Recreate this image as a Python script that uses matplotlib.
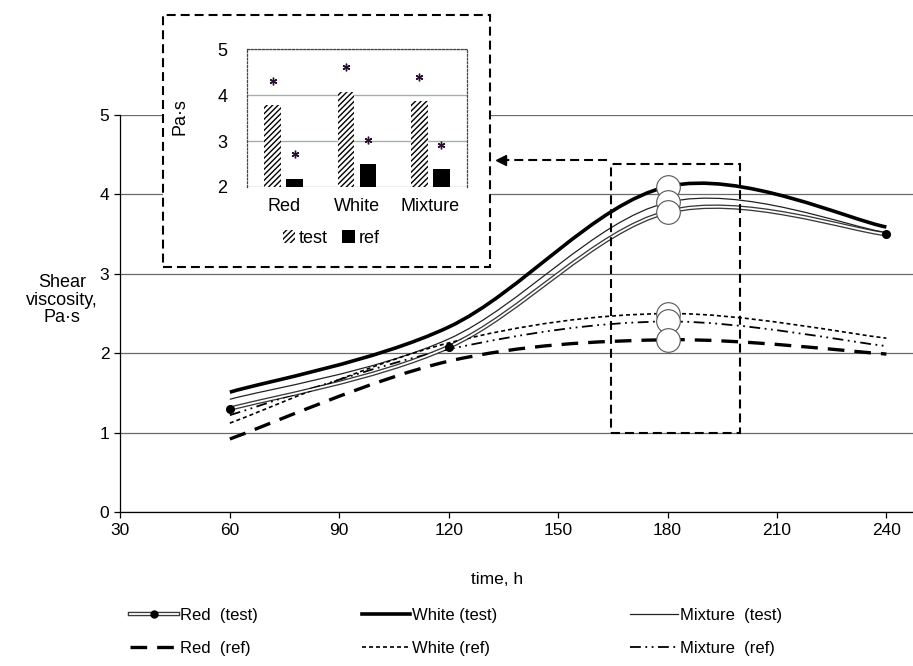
import numpy as np
import matplotlib
matplotlib.use("Agg")
import matplotlib.pyplot as plt
from matplotlib.path import Path
from matplotlib.patches import PathPatch, Rectangle, Patch
from matplotlib.lines import Line2D

plt.rcParams['font.family'] = ['Liberation Sans', 'DejaVu Sans']

# main chart data
hours = [60, 120, 180, 240]
red_test = [1.30, 2.08, 3.78, 3.50]
white_test = [1.51, 2.33, 4.10, 3.59]
mix_test = [1.42, 2.18, 3.90, 3.52]
red_ref = [0.92, 1.90, 2.17, 1.99]
white_ref = [1.12, 2.13, 2.50, 2.19]
mix_ref = [1.22, 2.05, 2.40, 2.09]

x_ticks = [30, 60, 90, 120, 150, 180, 210, 240]
y_ticks = [0, 1, 2, 3, 4, 5]

# inset bar chart data
categories = ['Red', 'White', 'Mixture']
bar_test = [3.78, 4.07, 3.87]
bar_ref = [2.17, 2.50, 2.39]
star_test = [4.30, 4.60, 4.40]
star_ref = [2.72, 3.02, 2.91]
inset_ticks = [2, 3, 4, 5]

# highlighted time window (x0, x1, y0, y1)
zoom_box = (164.5, 200.0, 1.0, 4.38)


def smooth_path(xs, ys):
    # piecewise Bezier through the points, like a spreadsheet "smoothed line"
    pts = np.column_stack([xs, ys]).astype(float)
    verts = [pts[0]]
    codes = [Path.MOVETO]
    n = len(pts)
    for i in range(n - 1):
        p_prev = pts[i - 1] if i > 0 else pts[i]
        p_next = pts[i + 2] if i + 2 < n else pts[i + 1]
        c1 = pts[i] + (pts[i + 1] - p_prev) / 6
        c2 = pts[i + 1] - (p_next - pts[i]) / 6
        verts += [c1, c2, pts[i + 1]]
        codes += [Path.CURVE4] * 3
    return Path(verts, codes)


def add_curve(ax, ys, **kw):
    patch = PathPatch(smooth_path(hours, ys), fill=False, capstyle='butt', **kw)
    ax.add_patch(patch)


fig = plt.figure(figsize=(9.13, 6.66), dpi=100)
ax = fig.add_axes([0.1319, 0.2312, 0.8681, 0.596])

ax.set_xlim(30, 247.3)
ax.set_ylim(0, 5)
ax.set_xticks(x_ticks)
ax.set_yticks(y_ticks)
ax.tick_params(direction='out', length=4, width=0.9, labelsize=12.5, pad=4)
for s in ['top', 'right']:
    ax.spines[s].set_visible(False)
for s in ['left', 'bottom']:
    ax.spines[s].set_linewidth(0.9)
ax.yaxis.grid(True, color='#6a6a6a', lw=0.9)
ax.set_axisbelow(True)

# curves
add_curve(ax, red_test, edgecolor='#3a3a3a', lw=3.2, zorder=3)
add_curve(ax, red_test, edgecolor='white', lw=1.3, zorder=3.1)
ax.plot(hours, red_test, 'o', color='black', ms=5.5, zorder=3.2)
add_curve(ax, white_test, edgecolor='black', lw=2.6, zorder=3)
add_curve(ax, mix_test, edgecolor='#222222', lw=0.9, zorder=3)
add_curve(ax, red_ref, edgecolor='black', lw=2.4, linestyle=(0, (5, 3)), zorder=3)
add_curve(ax, white_ref, edgecolor='black', lw=1.2, linestyle=(0, (2.4, 1.8)), zorder=3)
add_curve(ax, mix_ref, edgecolor='black', lw=1.3,
          linestyle=(0, (6, 2.5, 1, 2.5, 1, 2.5)), zorder=3)

# open circles at 180 h
at180 = [white_test[2], mix_test[2], red_test[2], white_ref[2], mix_ref[2], red_ref[2]]
ax.plot([180] * len(at180), at180, 'o', ms=17, mfc='white', mec='#555555',
        mew=0.8, zorder=5)

# dashed window and arrow to the inset
x0, x1, y0, y1 = zoom_box
ax.add_patch(Rectangle((x0, y0), x1 - x0, y1 - y0, fill=False, edgecolor='black',
                       lw=1.5, linestyle=(0, (4.3, 2.4)), zorder=4))
ax.plot([x0 - 1, 135.5], [4.43, 4.43], color='black', lw=1.5,
        linestyle=(0, (4.3, 2.4)), zorder=4)
ax.plot([134.3], [4.43], marker='<', color='black', ms=7, zorder=4)

fig.text(62 / 913, 1 - 300 / 666, 'Shear\nviscosity,\nPa\u00b7s', ha='center',
         va='center', fontsize=13, linespacing=1.05)
fig.text(497 / 913, 1 - 580 / 666, 'time, h', ha='center', va='center', fontsize=12.5)

# inset frame
frame = Rectangle((163 / 913, 1 - 267 / 666), 327 / 913, 252 / 666,
                  transform=fig.transFigure, facecolor='white', edgecolor='black',
                  lw=1.5, linestyle=(0, (4.3, 2.4)), zorder=1)
fig.add_artist(frame)

ax2 = fig.add_axes([247 / 913, 1 - 187 / 666, 220 / 913, 138 / 666])
ax2.set_zorder(2)
pos = np.arange(len(categories))
ax2.bar(pos - 0.15, [v - 2 for v in bar_test], 0.23, bottom=2, facecolor='white',
        edgecolor='black', hatch='//////', lw=0, zorder=3)
ax2.bar(pos + 0.15, [v - 2 for v in bar_ref], 0.23, bottom=2, color='black', zorder=3)
ax2.plot(pos - 0.15, star_test, ls='none', marker=(6, 2, 0), ms=5.5, mew=1,
         color='#2a1030', zorder=4)
ax2.plot(pos + 0.15, star_ref, ls='none', marker=(6, 2, 0), ms=5.5, mew=1,
         color='#2a1030', zorder=4)
ax2.set_xlim(-0.5, 2.5)
ax2.set_ylim(2, 5)
ax2.set_yticks(inset_ticks)
ax2.set_xticks(pos)
ax2.set_xticklabels(categories)
ax2.tick_params(length=0, labelsize=13)
ax2.tick_params(axis='y', pad=14)
ax2.tick_params(axis='x', pad=8)
ax2.yaxis.grid(True, color='#9fb3ab', lw=1)
ax2.set_axisbelow(True)
ax2.spines['bottom'].set_visible(False)
for s in ['left', 'top', 'right']:
    ax2.spines[s].set_linestyle((0, (1.5, 1.5)))
    ax2.spines[s].set_linewidth(0.9)
    ax2.spines[s].set_color('#444444')
ax2.set_ylabel('Pa\u00b7s', fontsize=13)
ax2.yaxis.set_label_coords(-0.268, 0.507)

inset_handles = [Patch(facecolor='white', edgecolor='black', hatch='//////', lw=0),
                 Patch(facecolor='black')]
leg2 = fig.legend(inset_handles, ['test', 'ref'], loc='center',
                  bbox_to_anchor=(331 / 913, 1 - 238 / 666), ncol=2, frameon=False,
                  fontsize=13, handlelength=0.7, handleheight=0.7, handletextpad=0.2,
                  columnspacing=0.8, borderpad=0, borderaxespad=0)
leg2.set_zorder(3)

# bottom legend, three columns
h_red_test = (Line2D([], [], color='#3a3a3a', lw=3.2),
              Line2D([], [], color='white', lw=1.3, marker='o', mfc='black',
                     mec='black', ms=5))
h_white_test = Line2D([], [], color='black', lw=2.6)
h_mix_test = Line2D([], [], color='#222222', lw=0.9)
h_red_ref = Line2D([], [], color='black', lw=2.4, linestyle=(0, (5, 3)))
h_white_ref = Line2D([], [], color='black', lw=1.2, linestyle=(0, (2.4, 1.8)))
h_mix_ref = Line2D([], [], color='black', lw=1.3, linestyle=(0, (6, 2.5, 1, 2.5, 1, 2.5)))

columns = [
    (130, [h_red_test, h_red_ref], ['Red  (test)', 'Red  (ref)']),
    (362, [h_white_test, h_white_ref], ['White (test)', 'White (ref)']),
    (630, [h_mix_test, h_mix_ref], ['Mixture  (test)', 'Mixture  (ref)']),
]
for xpix, hs, labels in columns:
    fig.legend(hs, labels, loc='center left', bbox_to_anchor=(xpix / 913, 1 - 632 / 666),
               frameon=False, borderpad=0, borderaxespad=0, handlelength=2.9,
               handletextpad=0.1, labelspacing=1.05, fontsize=12)

fig.savefig('out.png', dpi=100)
